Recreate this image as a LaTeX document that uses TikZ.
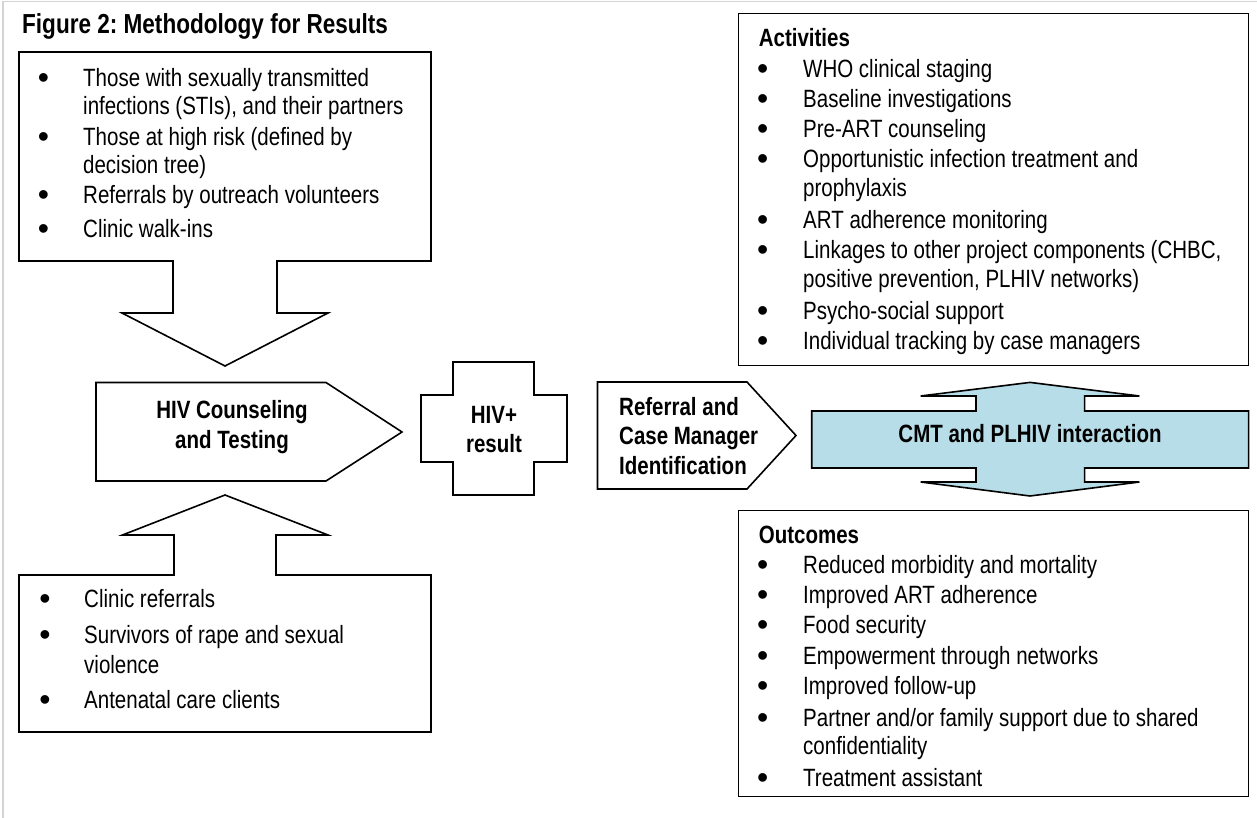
\documentclass[tikz,border=0pt]{standalone}
\usepackage{fontspec}
\setmainfont[FakeStretch=0.82]{Liberation Sans}
\newfontfamily\bulfont{Liberation Sans}
\frenchspacing
\definecolor{cmtblue}{HTML}{B7DDE8}
\definecolor{framegray}{HTML}{D4D4D4}
\newcommand\fs{\fontsize{25}{28.6}\selectfont}
\tikzset{
  shp/.style={draw=black, line width=1.6pt, fill=white, line join=miter},
  frameline/.style={draw=framegray, line width=1.5pt},
  txt/.style={anchor=base west, inner sep=0pt, font=\fs},
  hdr/.style={anchor=base west, inner sep=0pt, font=\fs\bfseries},
  lbl/.style={anchor=base, inner sep=0pt, font=\fs\bfseries},
  lblw/.style={anchor=base west, inner sep=0pt, font=\fs\bfseries},
  bul/.style={anchor=base, inner sep=0pt, font=\bulfont\fontsize{32}{34}\selectfont},
}
% name, bullet x, text x, baseline y, text
\newcommand\itm[5]{\node[bul] (#1b) at (#2,#4+2) {•}; \node[txt] (#1) at (#3,#4) {#5};}
\newcommand\cont[4]{\node[txt] (#1) at (#2,#3) {#4};}
\begin{document}
\begin{tikzpicture}[x=1pt,y=-1pt]
\useasboundingbox (0,0) rectangle (1257,818);
\draw[frameline] (3,818) -- (3,1.5) -- (1257,1.5);

% title
\node[anchor=base west, inner sep=0pt, font=\bfseries\fontsize{27.5}{30}\selectfont] (title) at (22,34) {Figure 2: Methodology for Results};

% top-left callout with down arrow
\path[shp] (19,52) -- (431,52) -- (431,261) -- (277,261) -- (277,313) -- (328,313)
  -- (225,366) -- (122,313) -- (173,313) -- (173,261) -- (19,261) -- cycle;
\itm{t1}{43.5}{83}{87}{Those with sexually transmitted}
\cont{t1c}{83}{115}{infections (STIs), and their partners}
\itm{t2}{43.5}{83}{146}{Those at high risk (defined by}
\cont{t2c}{83}{173.5}{decision tree)}
\itm{t3}{43.5}{83}{203.5}{Referrals by outreach volunteers}
\itm{t4}{43.5}{83}{237.5}{Clinic walk-ins}

% HIV counseling and testing pentagon
\path[shp] (96,382.5) -- (326,382.5) -- (402,432) -- (326,481) -- (96,481) -- cycle;
\node[lbl] (hct1) at (232,418) {HIV Counseling};
\node[lbl] (hct2) at (232,448) {and Testing};

% bottom-left callout with up arrow
\path[shp] (19,575) -- (174,575) -- (174,535) -- (122.5,535) -- (225,495) -- (328,535)
  -- (276,535) -- (276,575) -- (431,575) -- (431,732) -- (19,732) -- cycle;
\itm{b1}{45}{84}{607.5}{Clinic referrals}
\itm{b2}{45}{84}{643}{Survivors of rape and sexual}
\cont{b2c}{84}{673.5}{violence}
\itm{b3}{45}{84}{708.5}{Antenatal care clients}

% HIV+ cross
\path[shp] (453,362) -- (534,362) -- (534,395) -- (567,395) -- (567,462) -- (534,462)
  -- (534,495) -- (453,495) -- (453,462) -- (421,462) -- (421,395) -- (453,395) -- cycle;
\node[lbl] (hiv1) at (494,423) {HIV+};
\node[lbl] (hiv2) at (494,452) {result};

% referral pentagon
\path[shp] (597.5,382) -- (747,382) -- (796,435.5) -- (747,489) -- (597.5,489) -- cycle;
\node[lblw] (ref1) at (619,415.5) {Referral and};
\node[lblw] (ref2) at (619,444.5) {Case Manager};
\node[lblw] (ref3) at (619,474.5) {Identification};

% CMT double arrow
\path[shp, fill=cmtblue] (811.7,411) -- (976,411) -- (976,396) -- (920.6,396) -- (1030,382.4)
  -- (1139.4,396) -- (1084.6,396) -- (1084.6,411) -- (1248.6,411) -- (1248.6,468)
  -- (1084.6,468) -- (1084.6,482) -- (1139.4,482) -- (1030,496) -- (920.6,482)
  -- (976,482) -- (976,468) -- (811.7,468) -- cycle;
\node[lbl] (cmt) at (1030,442) {CMT and PLHIV interaction};

% activities box
\path[shp] (738.4,13.4) rectangle (1248.6,365.4);
\node[hdr] (act) at (758.6,47) {Activities};
\itm{a1}{762.6}{803}{77.3}{WHO clinical staging}
\itm{a2}{762.6}{803}{107.6}{Baseline investigations}
\itm{a3}{762.6}{803}{137.8}{Pre-ART counseling}
\itm{a4}{762.6}{803}{168}{Opportunistic infection treatment and}
\cont{a4c}{803}{196.6}{prophylaxis}
\itm{a5}{762.6}{803}{228.6}{ART adherence monitoring}
\itm{a6}{762.6}{803}{258.8}{Linkages to other project components (CHBC,}
\cont{a6c}{803}{287.4}{positive prevention, PLHIV networks)}
\itm{a7}{762.6}{803}{319.3}{Psycho-social support}
\itm{a8}{762.6}{803}{349.6}{Individual tracking by case managers}

% outcomes box
\path[shp] (738.4,510.5) rectangle (1248.6,796.5);
\node[hdr] (out) at (758.6,543) {Outcomes};
\itm{o1}{762.6}{803}{573.4}{Reduced morbidity and mortality}
\itm{o2}{762.6}{803}{603.6}{Improved ART adherence}
\itm{o3}{762.6}{803}{633.9}{Food security}
\itm{o4}{762.6}{803}{664}{Empowerment through networks}
\itm{o5}{762.6}{803}{694.4}{Improved follow-up}
\itm{o6}{762.6}{803}{726.3}{Partner and/or family support due to shared}
\cont{o6c}{803}{754.9}{confidentiality}
\itm{o7}{762.6}{803}{786.8}{Treatment assistant}
\end{tikzpicture}
\end{document}
